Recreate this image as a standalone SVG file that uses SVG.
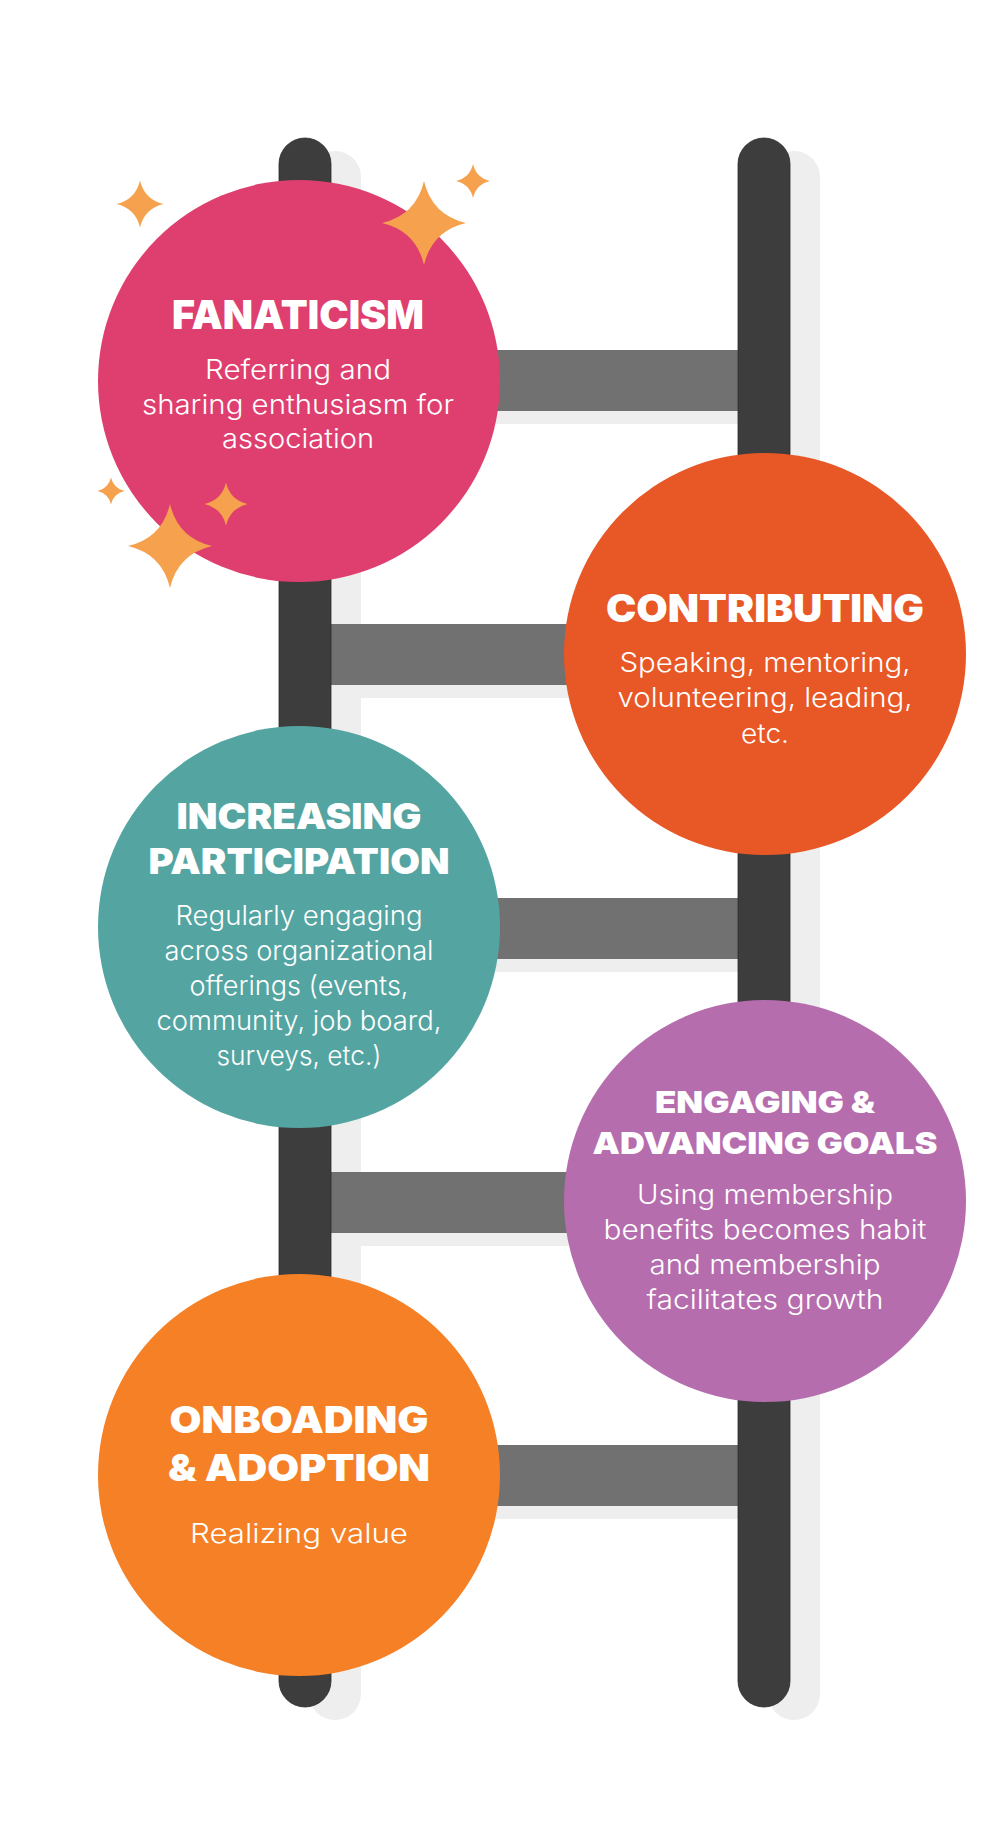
<svg xmlns="http://www.w3.org/2000/svg" xmlns:xlink="http://www.w3.org/1999/xlink" width="1000" height="1847" viewBox="0 0 1000 1847">
<style>
.rail{fill:#3d3d3d;stroke:#2b2b2b;stroke-width:0.8}
.rung{fill:#717171}
.shadow .rail,.shadow .rung{fill:#eeeeee;stroke:none}
.h{font-family:Inter,'Liberation Sans',sans-serif;font-weight:900;fill:#ffffff;text-anchor:middle}
.b{font-family:Inter,'Liberation Sans',sans-serif;font-weight:300;font-size:27px;fill:#ffffff;text-anchor:middle}
.star{fill:#f6a14d}
</style>
<defs>
<path id="spark" d="M0,-1 Q0.19,-0.19 1,0 Q0.19,0.19 0,1 Q-0.19,0.19 -1,0 Q-0.19,-0.19 0,-1Z"/>
</defs>
<rect width="1000" height="1847" fill="#ffffff"/>
<g id="connectors">
<g class="shadow" transform="translate(30,13)">
<rect class="rail" x="279" y="138" width="52" height="1569" rx="26"/>
<rect class="rail" x="738" y="138" width="52" height="1569" rx="26"/>
<rect class="rung" x="331" y="350" width="407" height="61"/>
<rect class="rung" x="331" y="624" width="407" height="61"/>
<rect class="rung" x="331" y="898" width="407" height="61"/>
<rect class="rung" x="331" y="1172" width="407" height="61"/>
<rect class="rung" x="331" y="1445" width="407" height="61"/>
</g>
<rect class="rung" x="331" y="350" width="407" height="61"/>
<rect class="rung" x="331" y="624" width="407" height="61"/>
<rect class="rung" x="331" y="898" width="407" height="61"/>
<rect class="rung" x="331" y="1172" width="407" height="61"/>
<rect class="rung" x="331" y="1445" width="407" height="61"/>
<rect class="rail" x="279" y="138" width="52" height="1569" rx="26"/>
<rect class="rail" x="738" y="138" width="52" height="1569" rx="26"/>
</g>
<g id="fanaticism">
<circle cx="299" cy="381" r="201" fill="#de3f6f"/>
<text class="h" x="298" y="329" font-size="40" textLength="252" lengthAdjust="spacingAndGlyphs">FANATICISM</text>
<text class="b" x="298" y="379" textLength="186" lengthAdjust="spacingAndGlyphs">Referring and</text>
<text class="b" x="298" y="414" textLength="312" lengthAdjust="spacingAndGlyphs">sharing enthusiasm for</text>
<text class="b" x="298" y="448" textLength="152" lengthAdjust="spacingAndGlyphs">association</text>
</g>
<g id="contributing">
<circle cx="765" cy="654" r="201" fill="#e85726"/>
<text class="h" x="765" y="622" font-size="38" textLength="318" lengthAdjust="spacingAndGlyphs">CONTRIBUTING</text>
<text class="b" x="765" y="672" textLength="291" lengthAdjust="spacingAndGlyphs">Speaking, mentoring,</text>
<text class="b" x="765" y="707" textLength="295" lengthAdjust="spacingAndGlyphs">volunteering, leading,</text>
<text class="b" x="765" y="743" textLength="48" lengthAdjust="spacingAndGlyphs">etc.</text>
</g>
<g id="increasing">
<circle cx="299" cy="927" r="201" fill="#54a5a2"/>
<text class="h" x="299" y="829" font-size="36" textLength="245" lengthAdjust="spacingAndGlyphs">INCREASING</text>
<text class="h" x="299" y="874" font-size="36" textLength="301" lengthAdjust="spacingAndGlyphs">PARTICIPATION</text>
<text class="b" x="299" y="925" textLength="247" lengthAdjust="spacingAndGlyphs">Regularly engaging</text>
<text class="b" x="299" y="960" textLength="269" lengthAdjust="spacingAndGlyphs">across organizational</text>
<text class="b" x="299" y="995" textLength="219" lengthAdjust="spacingAndGlyphs">offerings (events,</text>
<text class="b" x="299" y="1030" textLength="285" lengthAdjust="spacingAndGlyphs">community, job board,</text>
<text class="b" x="299" y="1065" textLength="165" lengthAdjust="spacingAndGlyphs">surveys, etc.)</text>
</g>
<g id="engaging">
<circle cx="765" cy="1201" r="201" fill="#b56dae"/>
<text class="h" x="765" y="1113" font-size="30.5" textLength="220" lengthAdjust="spacingAndGlyphs">ENGAGING &amp;</text>
<text class="h" x="765" y="1154" font-size="30.5" textLength="345" lengthAdjust="spacingAndGlyphs">ADVANCING GOALS</text>
<text class="b" x="765" y="1204" textLength="256" lengthAdjust="spacingAndGlyphs">Using membership</text>
<text class="b" x="765" y="1239" textLength="323" lengthAdjust="spacingAndGlyphs">benefits becomes habit</text>
<text class="b" x="765" y="1274" textLength="231" lengthAdjust="spacingAndGlyphs">and membership</text>
<text class="b" x="765" y="1309" textLength="237" lengthAdjust="spacingAndGlyphs">facilitates growth</text>
</g>
<g id="onboarding">
<circle cx="299" cy="1475" r="201" fill="#f58025"/>
<text class="h" x="299" y="1433" font-size="37" textLength="259" lengthAdjust="spacingAndGlyphs">ONBOADING</text>
<text class="h" x="299" y="1481" font-size="37" textLength="262" lengthAdjust="spacingAndGlyphs">&amp; ADOPTION</text>
<text class="b" x="299" y="1543" textLength="218" lengthAdjust="spacingAndGlyphs">Realizing value</text>
</g>
<g id="sparkles" class="star">
<use xlink:href="#spark" transform="translate(140,204) scale(23.5)"/>
<use xlink:href="#spark" transform="translate(424,223) scale(42)"/>
<use xlink:href="#spark" transform="translate(473,181) scale(17)"/>
<use xlink:href="#spark" transform="translate(111,491) scale(13.5)"/>
<use xlink:href="#spark" transform="translate(226,504) scale(21.5)"/>
<use xlink:href="#spark" transform="translate(170,546) scale(42)"/>
</g>
</svg>
